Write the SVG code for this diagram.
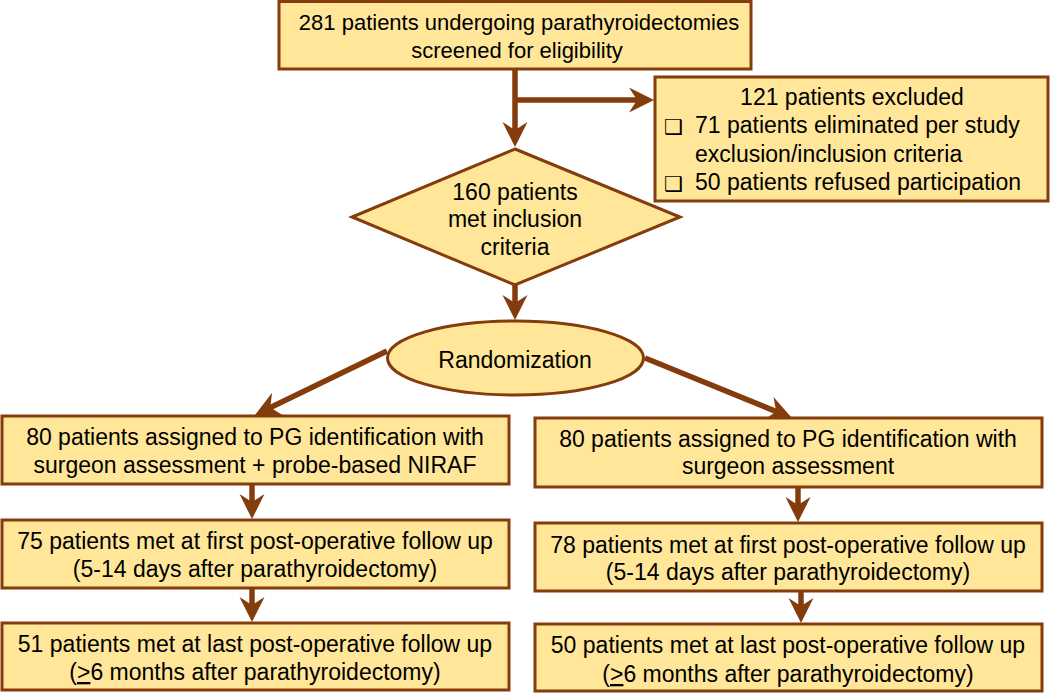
<svg xmlns="http://www.w3.org/2000/svg" width="1050" height="693" viewBox="0 0 1050 693">
<style>
.box{fill:#FFE699;stroke:#843C0C;stroke-width:3}
.t{font-family:"Liberation Sans",Arial,sans-serif;font-size:23px;fill:#000;text-anchor:middle}
.tl{font-family:"Liberation Sans",Arial,sans-serif;font-size:23px;fill:#000}
.cb{font-family:"DejaVu Sans",sans-serif;font-size:21px;font-weight:bold;fill:#000}
.c{fill:none;stroke:#843C0C;stroke-width:5.5}
</style>
<defs>
<marker id="ah" markerUnits="userSpaceOnUse" viewBox="-27 -14 29 28" markerWidth="29" markerHeight="28" refX="-16" refY="0" orient="auto">
<path d="M0,0 L-25,-12.5 L-17,0 L-25,12.5 Z" fill="#843C0C"/>
</marker>
</defs>
<g id="connectors">
<path class="c" d="M515,69 V131" marker-end="url(#ah)"/>
<path class="c" d="M513,100 H638" marker-end="url(#ah)"/>
<path class="c" d="M515,285 V304" marker-end="url(#ah)"/>
<path class="c" d="M387,351 L269.4,408" marker-end="url(#ah)"/>
<path class="c" d="M645,358 L777.1,411.9" marker-end="url(#ah)"/>
<path class="c" d="M252,484 V503" marker-end="url(#ah)"/>
<path class="c" d="M252,588 V606" marker-end="url(#ah)"/>
<path class="c" d="M798,487 V506" marker-end="url(#ah)"/>
<path class="c" d="M801,591 V607" marker-end="url(#ah)"/>
</g>
<g id="screened">
<rect class="box" x="279" y="1.5" width="472" height="67.5"/>
<text class="t" x="519" y="30" style="font-size:22px">281 patients undergoing parathyroidectomies</text>
<text class="t" x="517" y="58" style="font-size:22px">screened for eligibility</text>
</g>
<g id="excluded">
<rect class="box" x="655" y="77" width="393" height="124"/>
<text class="t" x="852" y="105">121 patients excluded</text>
<text class="cb" x="664" y="134">❑</text>
<text class="tl" x="695" y="133">71 patients eliminated per study</text>
<text class="tl" x="695" y="162">exclusion/inclusion criteria</text>
<text class="cb" x="664" y="191">❑</text>
<text class="tl" x="695" y="190">50 patients refused participation</text>
</g>
<g id="inclusion">
<polygon class="box" points="515,149 680,217 515,285 352,217"/>
<text class="t" x="515" y="200">160 patients</text>
<text class="t" x="515" y="227">met inclusion</text>
<text class="t" x="515" y="255">criteria</text>
</g>
<g id="randomization">
<ellipse class="box" cx="515.5" cy="358" rx="128" ry="37"/>
<text class="t" x="515" y="368">Randomization</text>
</g>
<g id="armA">
<rect class="box" x="2" y="416" width="507" height="68"/>
<text class="t" x="255" y="445">80 patients assigned to PG identification with</text>
<text class="t" x="255" y="473">surgeon assessment + probe-based NIRAF</text>
</g>
<g id="armA-first">
<rect class="box" x="2" y="520" width="507" height="68"/>
<text class="t" x="255" y="549">75 patients met at first post-operative follow up</text>
<text class="t" x="255" y="577">(5-14 days after parathyroidectomy)</text>
</g>
<g id="armA-last">
<rect class="box" x="2" y="623" width="507" height="67"/>
<text class="t" x="255" y="652">51 patients met at last post-operative follow up</text>
<text class="t" x="255" y="680">(<tspan text-decoration="underline">&gt;</tspan>6 months after parathyroidectomy)</text>
</g>
<g id="armB">
<rect class="box" x="535" y="418" width="507" height="69"/>
<text class="t" x="788" y="447">80 patients assigned to PG identification with</text>
<text class="t" x="788" y="474">surgeon assessment</text>
</g>
<g id="armB-first">
<rect class="box" x="535" y="523" width="507" height="68"/>
<text class="t" x="788" y="553">78 patients met at first post-operative follow up</text>
<text class="t" x="788" y="580">(5-14 days after parathyroidectomy)</text>
</g>
<g id="armB-last">
<rect class="box" x="535" y="624" width="507" height="67"/>
<text class="t" x="788" y="653">50 patients met at last post-operative follow up</text>
<text class="t" x="788" y="682">(<tspan text-decoration="underline">&gt;</tspan>6 months after parathyroidectomy)</text>
</g>
</svg>
